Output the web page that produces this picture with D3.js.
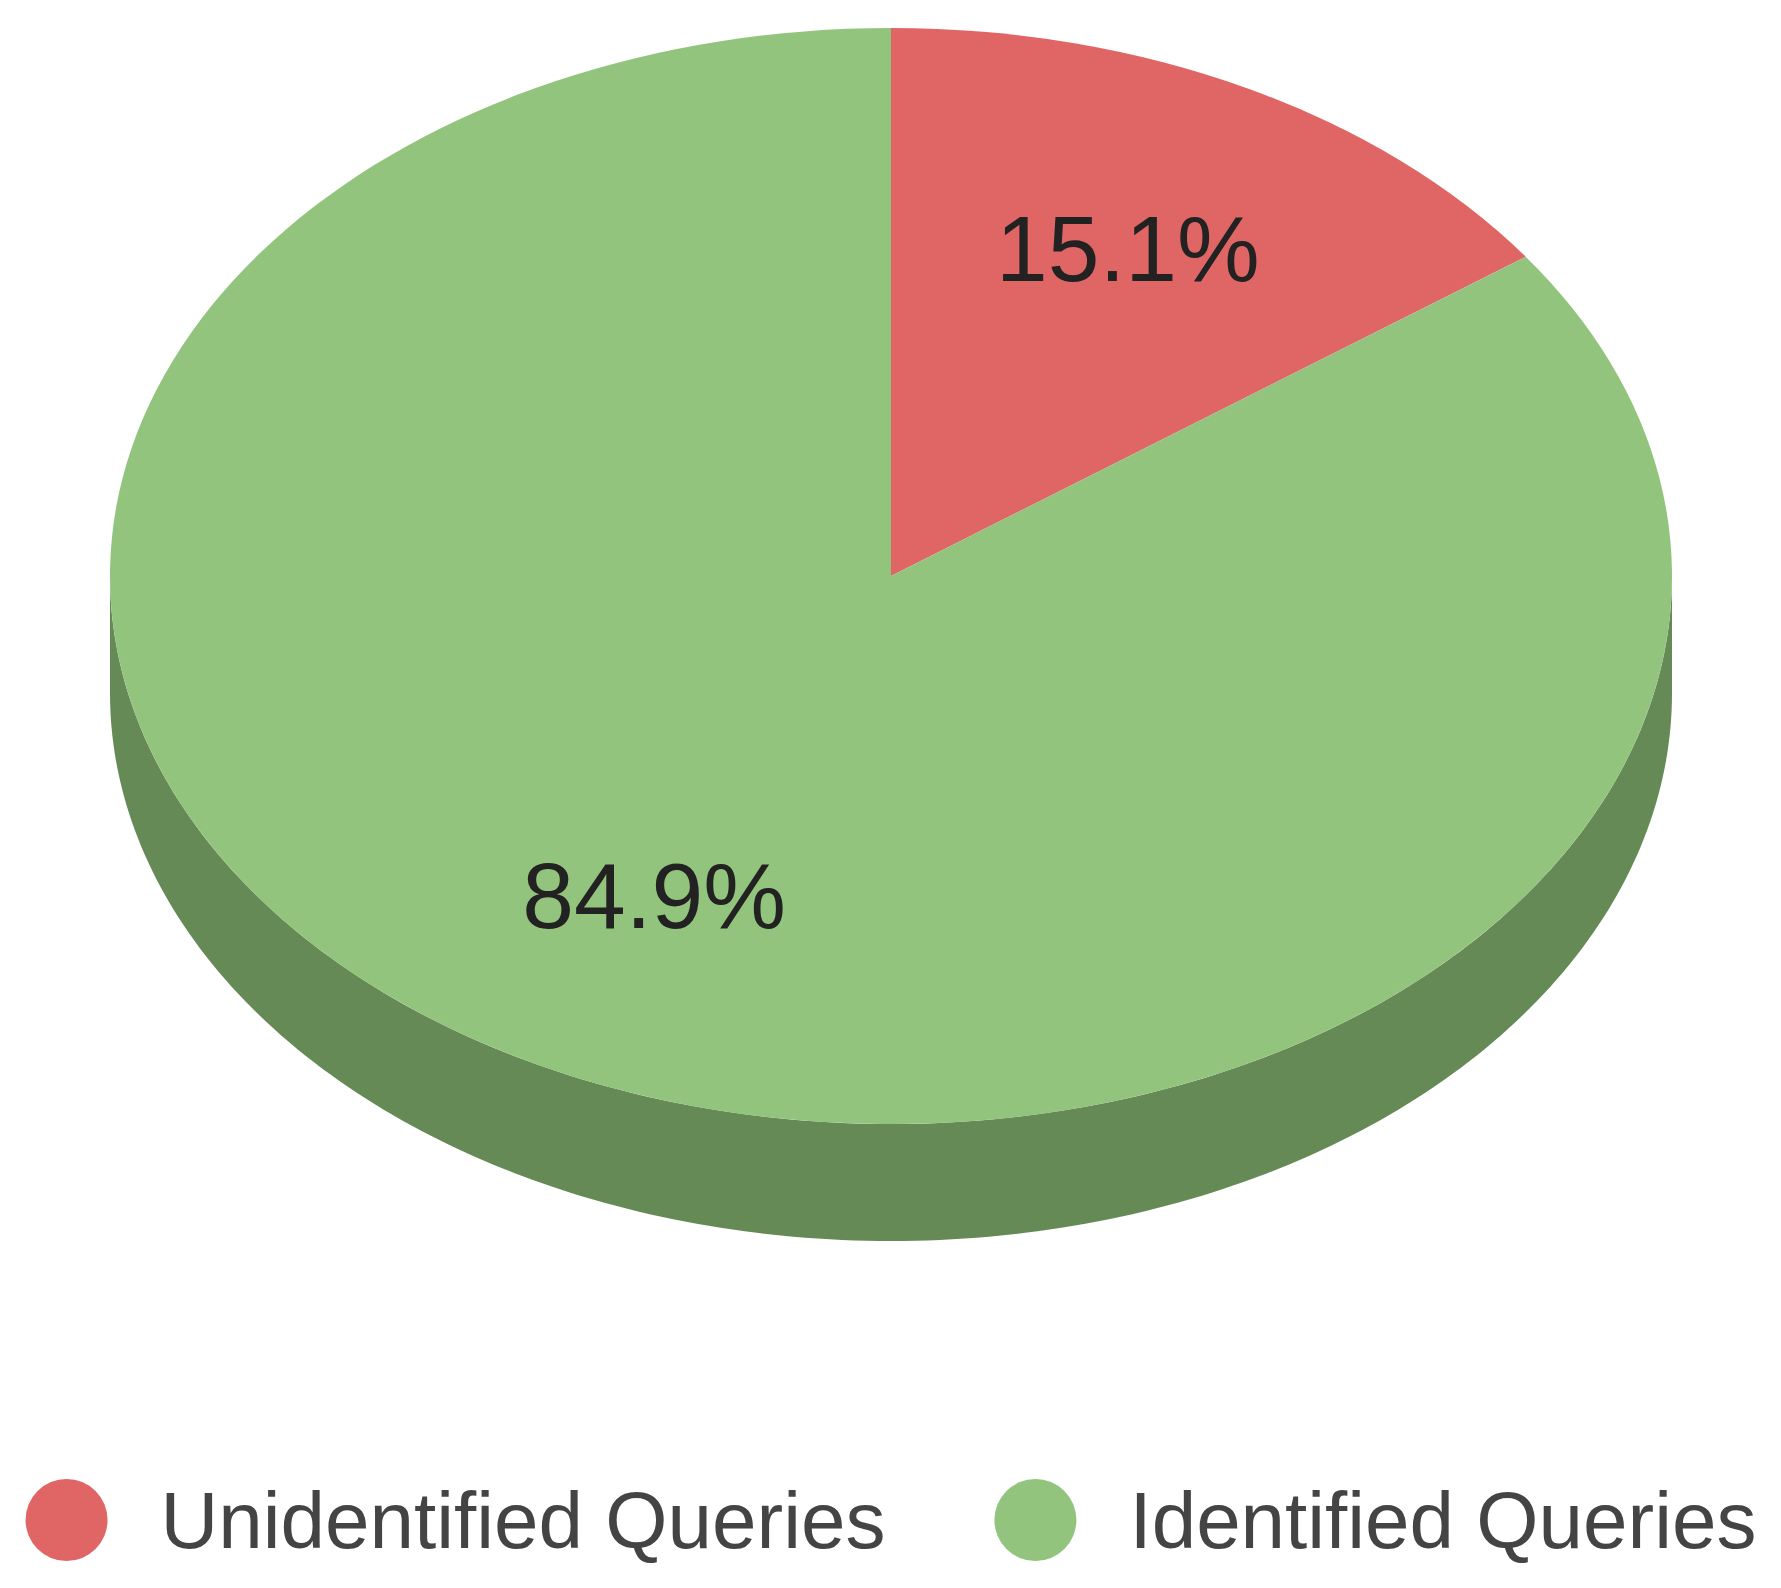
<!DOCTYPE html>
<html>
<head>
<meta charset="utf-8">
<script src="https://cdn.jsdelivr.net/npm/d3@7"></script>
<style>
html,body{margin:0;padding:0;background:#fff;}
svg{display:block;}
</style>
</head>
<body>
<svg id="chart" width="1781" height="1588"></svg>
<script>
const categories = ["Unidentified Queries", "Identified Queries"];
const values = [15.1, 84.9];
const labels = ["15.1%", "84.9%"];
const colors = ["#e06666", "#93c47d"];
const sideColors = ["#a84d4d", "#668a56"];

const W = 1781, H = 1588;
const cx = 891, cy = 576, rx = 781, ry = 548, depth = 117;
const font = "'Liberation Sans', Arial, sans-serif";

const svg = d3.select("#chart");
const pie = d3.pie().sort(null).value(d => d)(values);

// side (visible front half)
const sideG = svg.append("g");
pie.forEach((p, i) => {
  const a0 = Math.max(p.startAngle, Math.PI / 2);
  const a1 = Math.min(p.endAngle, Math.PI * 3 / 2);
  if (a1 <= a0) return;
  const n = 200;
  const ts = d3.range(n + 1).map(k => a0 + (a1 - a0) * k / n);
  const top = ts.map(t => [cx + rx * Math.sin(t), cy - ry * Math.cos(t)]);
  const bot = ts.slice().reverse().map(t => [cx + rx * Math.sin(t), cy - ry * Math.cos(t) + depth]);
  sideG.append("path")
    .attr("d", d3.line()(top.concat(bot)) + "Z")
    .attr("fill", sideColors[i]);
});

// top face
const arc = d3.arc().innerRadius(0).outerRadius(rx);
const topG = svg.append("g").attr("transform", `translate(${cx},${cy}) scale(1,${ry / rx})`);
topG.selectAll("path").data(pie).join("path")
  .attr("d", arc)
  .attr("fill", (d, i) => colors[i]);

// labels
const f = 0.664;
svg.append("g").selectAll("text").data(pie).join("text")
  .attr("x", d => cx + f * rx * Math.sin((d.startAngle + d.endAngle) / 2))
  .attr("y", d => cy - 5 - f * ry * Math.cos((d.startAngle + d.endAngle) / 2))
  .attr("dy", "0.36em")
  .attr("text-anchor", "middle")
  .attr("font-family", font)
  .attr("font-size", 93)
  .attr("fill", "#222")
  .text((d, i) => labels[i]);

// legend
const legY = 1520, r = 41, gapText = 53, gapItem = 109, fs = 80;
const leg = svg.append("g");
const items = categories.map((c, i) => {
  const g = leg.append("g");
  g.append("circle").attr("cx", r).attr("cy", legY).attr("r", r).attr("fill", colors[i]);
  const t = g.append("text").attr("x", 2 * r + gapText).attr("y", legY).attr("dy", "0.355em")
    .attr("font-family", font).attr("font-size", fs).attr("fill", "#444").text(c);
  return { g, w: 2 * r + gapText + t.node().getComputedTextLength() };
});
const total = d3.sum(items, d => d.w) + gapItem * (items.length - 1);
let x0 = cx - total / 2;
items.forEach(it => { it.g.attr("transform", `translate(${x0},0)`); x0 += it.w + gapItem; });
</script>
</body>
</html>
